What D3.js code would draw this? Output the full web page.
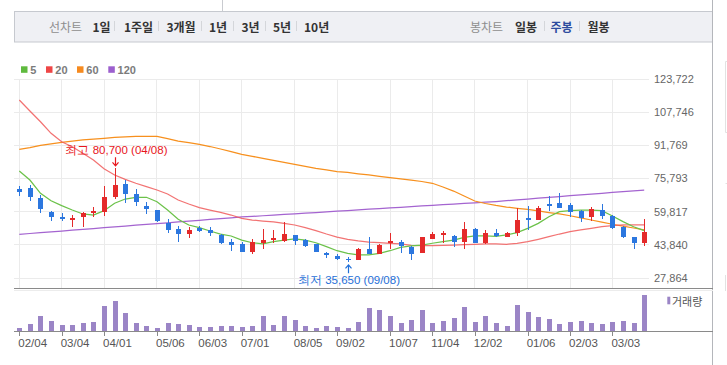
<!DOCTYPE html>
<html><head><meta charset="utf-8">
<script src="https://cdn.jsdelivr.net/npm/d3@7"></script>
<style>
html,body{margin:0;padding:0;background:#fff;}
svg{display:block;}
</style></head><body>
<svg id="c" width="727" height="365"></svg>
<script>
// ---------- DATA ----------
const dates = ["02/04","02/11","02/18","02/25","03/04","03/11","03/18","03/25","04/01","04/08",
  "04/15","04/22","04/29","05/06","05/13","05/20","05/27","06/03","06/10","06/17",
  "06/24","07/01","07/08","07/15","07/22","07/29","08/05","08/12","08/19","08/26",
  "09/02","09/08","09/16","09/23","09/30","10/07","10/14","10/21","10/28","11/04",
  "11/11","11/18","11/25","12/02","12/09","12/16","12/23","12/30","01/06","01/13",
  "01/20","01/27","02/03","02/10","02/17","02/24","03/03","03/09","03/16","03/23"];
const open = [70700,71200,66250,59800,57100,56150,57100,59300,59500,67000,
  73150,68450,62550,60600,54350,51450,49200,51950,51000,48700,
  45200,44250,40550,44850,46150,45850,48450,46150,44250,39750,
  38600,37150,36700,41850,39450,44850,45350,42800,40050,46800,
  48450,47950,45350,51450,44850,49550,47750,49400,56750,55950,
  63350,64150,63050,60150,57100,60600,57750,52550,47750,44850];
const high = [72200,72650,67850,60300,59000,58050,59800,62050,72200,80700,
  75050,70600,64450,60600,56150,52900,52450,52750,52450,49050,
  46650,45200,46500,51450,50950,54850,48700,46500,44300,40550,
  39300,38100,42450,47750,44100,49550,46150,43300,47500,49900,
  50650,48600,54850,51950,51000,51300,50150,61450,62550,62550,
  67350,68950,63850,60600,61900,63500,58200,53050,47750,56300];
const low = [67500,65100,59150,55450,55200,52550,52550,57400,57850,66050,
  64150,62700,58850,54850,49700,45350,47300,50150,48250,44400,
  41000,40400,39400,41700,44850,45350,43750,42650,40500,37650,
  36700,35650,36650,39400,39400,41700,40050,36700,39750,46500,
  44850,42650,41700,44600,44250,47450,47450,48100,51000,55800,
  60300,61450,57400,55000,55300,56450,51600,47300,41700,43300];
const close = [69400,67000,60950,57100,56600,56600,59300,60150,66900,72650,
  68200,64600,60950,55300,51150,49200,51000,50500,49700,44850,
  43900,40400,45350,46300,47150,49050,45850,43300,40550,38950,
  36850,36400,41850,39400,43600,45850,43300,39400,47450,49050,
  49400,45350,51450,44850,49550,47950,49700,55800,55800,61450,
  62400,61750,59800,56900,60950,57850,51950,47750,44600,50150];
const volume = [165000,385000,765000,515000,315000,315000,415000,465000,1265000,1515000,
  915000,415000,265000,165000,415000,365000,315000,215000,215000,265000,
  265000,215000,265000,765000,315000,765000,565000,265000,165000,265000,
  215000,165000,465000,1165000,1065000,765000,415000,565000,1065000,415000,
  515000,665000,1215000,465000,765000,415000,265000,1315000,965000,715000,
  615000,365000,465000,515000,415000,365000,465000,515000,415000,1815000];
const ma5 = [79400,75050,68650,65100,62700,60600,58700,58200,60300,63850,
  65900,66750,66750,64600,60600,56150,53400,52100,50500,49050,
  48100,46150,44850,44250,45350,46150,46650,46150,44850,42950,
  41000,39750,38950,38950,39750,41000,42650,43300,43750,44600,
  45350,46150,47450,48100,48100,47950,48600,49700,51800,54200,
  57400,59800,60300,60600,60600,60300,57750,55000,52550,50650];
const ma20 = [113600,108300,103150,97550,93500,91100,87950,84700,80450,77500,
  75400,73500,71850,70250,68350,65450,63500,61750,60600,59500,
  58200,56600,55800,55300,54850,54200,53400,52100,50650,49050,
  47600,46500,45700,45200,44850,44600,44250,43600,43400,43400,
  43600,43750,43900,44100,44250,44250,44100,44600,45350,46500,
  47750,49050,50150,51000,51800,52600,53050,53400,53400,53400];
const ma60 = [89850,90700,91800,92500,93250,93750,94350,94800,95150,95600,
  95900,96050,96100,96100,95050,93850,93050,92250,91200,90000,
  88700,87450,86500,85500,84550,83600,82650,81650,80700,79900,
  79050,78700,78050,77500,76850,76250,75650,75050,74350,73500,
  71700,69750,67350,64950,63750,62800,62050,61450,60950,60150,
  59400,58700,57850,56850,55800,54750,53750,52800,51950,51000];
const ma120 = [48900,49300,49700,50100,50500,50900,51300,51700,52100,52500,
  52900,53300,53700,54050,54450,54850,55250,55650,56050,56450,
  56850,57250,57550,57850,58150,58500,58800,59100,59400,59750,
  60050,60350,60650,61000,61300,61600,61900,62200,62550,62850,
  63150,63450,63800,64100,64400,64700,65100,65500,65900,66300,
  66700,67100,67500,67850,68250,68650,69050,69450,69850,70250];
const yTicks = [27864,43840,59817,75793,91769,107746,123722];
const xTickLabels = ["02/04","03/04","04/01","05/06","06/03","07/01","08/05","09/02","10/07","11/04","12/02","01/06","02/03","03/03"];
const maLabels = ["5","20","60","120"];
const periodLabels = ["1일","1주일","3개월","1년","3년","5년","10년"];
const candleTypeLabels = ["일봉","주봉","월봉"];
const activeCandleType = "주봉";
const volumeLabel = "거래량";

// ---------- STYLE / LAYOUT ----------
const NUM = "'Liberation Sans', Arial, sans-serif";
const KR = "'Noto Sans CJK KR', 'Noto Sans', sans-serif";
const RED = "#e42a2a", BLUE = "#2c77df", VOLC = "#9b85c6";
const maColors = ["#6cc24a","#f05a5a","#f7901e","#a464d0"];
const legendColors = ["#5fba3e","#ee4646","#f68a1f","#9c5fce"];

const svg = d3.select("#c");
const rows = dates.map((d,i)=>({d,o:open[i],h:high[i],l:low[i],c:close[i],v:volume[i]}));

const x = d3.scalePoint().domain(dates).range([19.3, 644.2]);
const y = d3.scaleLinear().domain([27864,123722]).range([278,79]);
const yv = d3.scaleLinear().domain([0,2000000]).range([331.3,291.3]);

// ---------- frame / top menu ----------
svg.append("line").attr("x1",222.5).attr("x2",222.5).attr("y1",0).attr("y2",11.5).attr("stroke","#c9cbd0");
svg.append("rect").attr("x",14.5).attr("y",11.5).attr("width",698).attr("height",30.5)
  .attr("fill","#eff0f4").attr("stroke","#c6c9cf");
svg.append("line").attr("x1",712.5).attr("x2",712.5).attr("y1",0).attr("y2",365).attr("stroke","#b4b6bb");
svg.append("path").attr("d","M727,61.5H725.5V132.5H727 M727,183.5H725.5 M725.5,275V291").attr("fill","none").attr("stroke","#e2e2e2");

const menuY = 26;
svg.append("text").attr("x",49).attr("y",menuY).attr("dominant-baseline","central")
  .attr("font-family",KR).attr("font-size",12).attr("fill","#8e8e8e").text("선차트");
const periodX = [92.5,124,166.5,209,241.5,273,304];
const periodSep = [114.5,158.5,201.5,233.5,265.5,296.5];
periodLabels.forEach((t,i)=>{
  svg.append("text").attr("x",periodX[i]).attr("y",menuY).attr("dominant-baseline","central")
    .attr("font-family",KR).attr("font-size",12).attr("font-weight","bold").attr("fill","#333").text(t);
});
periodSep.forEach(sx=>svg.append("line").attr("x1",sx).attr("x2",sx).attr("y1",21).attr("y2",31).attr("stroke","#d4d6da"));
svg.append("text").attr("x",470).attr("y",menuY).attr("dominant-baseline","central")
  .attr("font-family",KR).attr("font-size",12).attr("fill","#8e8e8e").text("봉차트");
const ctX = [515,550.5,587.5];
[544.5,579.5].forEach(sx=>svg.append("line").attr("x1",sx).attr("x2",sx).attr("y1",21).attr("y2",31).attr("stroke","#d4d6da"));
candleTypeLabels.forEach((t,i)=>{
  svg.append("text").attr("x",ctX[i]).attr("y",menuY).attr("dominant-baseline","central")
    .attr("font-family",KR).attr("font-size",12).attr("font-weight","bold")
    .attr("fill", t===activeCandleType ? "#2d4d9f" : "#333").text(t);
});

// ---------- legend ----------
const legSqX = [21,46,77,108.3];
maLabels.forEach((t,i)=>{
  svg.append("rect").attr("x",legSqX[i]).attr("y",66.3).attr("width",6.5).attr("height",6.5).attr("fill",legendColors[i]);
  svg.append("text").attr("x",legSqX[i]+9.3).attr("y",69.8).attr("dominant-baseline","central")
    .attr("font-family",NUM).attr("font-size",11).attr("font-weight","bold").attr("fill","#7b7b7b").text(t);
});

// ---------- grid ----------
const grid = svg.append("g").attr("shape-rendering","crispEdges");
yTicks.forEach(v=>{
  grid.append("line").attr("x1",14).attr("x2",649).attr("y1",y(v)).attr("y2",y(v)).attr("stroke","#ebebeb");
});
xTickLabels.forEach(t=>{
  grid.append("line").attr("x1",x(t)).attr("x2",x(t)).attr("y1",79).attr("y2",288).attr("stroke","#ebebeb");
});
const fmt = d3.format(",");
yTicks.forEach(v=>{
  svg.append("text").attr("x",654).attr("y",y(v)).attr("dy","0.35em")
    .attr("font-family",NUM).attr("font-size",11).attr("fill","#666").text(fmt(v));
});

// ---------- moving averages ----------
const maSeries = [ma120, ma60, ma20, ma5];
const maCols = [maColors[3], maColors[2], maColors[1], maColors[0]];
const lineGen = d3.line().x((d,i)=>x(dates[i])).y(d=>y(d));
maSeries.forEach((s,k)=>{
  svg.append("path").datum(s).attr("d",lineGen).attr("fill","none")
    .attr("stroke",maCols[k]).attr("stroke-width",1.25).attr("stroke-opacity", k===2?0.85:1);
});

// ---------- candles ----------
const cg = svg.append("g").attr("shape-rendering","crispEdges");
rows.forEach(r=>{
  const col = r.c >= r.o ? RED : BLUE;
  const cx = Math.round(x(r.d)) + 0.5;
  cg.append("line").attr("x1",cx).attr("x2",cx).attr("y1",y(r.h)).attr("y2",y(r.l)).attr("stroke",col);
  const top = y(Math.max(r.o,r.c)), bot = y(Math.min(r.o,r.c));
  cg.append("rect").attr("x",cx-2.5).attr("y",top).attr("width",5).attr("height",Math.max(1.2,bot-top)).attr("fill",col);
});

// ---------- high / low annotations ----------
const hiIdx = d3.maxIndex(high), loIdx = d3.minIndex(low);
const hx = Math.round(x(dates[hiIdx]))+0.5, hy = y(high[hiIdx]);
svg.append("path").attr("d",`M${hx},${hy-11}V${hy-2.5}M${hx-3},${hy-6}L${hx},${hy-2.5}L${hx+3},${hy-6}`)
  .attr("fill","none").attr("stroke","#e8161c").attr("stroke-width",1.2);
svg.append("text").attr("x",hx+1).attr("y",hy-18).attr("dominant-baseline","central").attr("text-anchor","middle")
  .attr("font-family",NUM).attr("font-size",11.5).attr("fill","#e8161c")
  .text(`최고 ${fmt(high[hiIdx])} (${dates[hiIdx]})`);
const lx = Math.round(x(dates[loIdx]))+0.5, ly = y(low[loIdx]);
svg.append("path").attr("d",`M${lx},${ly+11.5}V${ly+3}M${lx-3},${ly+6.5}L${lx},${ly+3}L${lx+3},${ly+6.5}`)
  .attr("fill","none").attr("stroke","#1f6fd8").attr("stroke-width",1.2);
svg.append("text").attr("x",lx+0.5).attr("y",ly+18.5).attr("dominant-baseline","central").attr("text-anchor","middle")
  .attr("font-family",NUM).attr("font-size",11.5).attr("fill","#1f6fd8")
  .text(`최저 ${fmt(low[loIdx])} (${dates[loIdx]})`);

// ---------- panel lines ----------
const pl = svg.append("g").attr("shape-rendering","crispEdges");
pl.append("line").attr("x1",14).attr("x2",713).attr("y1",288.5).attr("y2",288.5).attr("stroke","#8a8a8a");
pl.append("line").attr("x1",14).attr("x2",713).attr("y1",290.5).attr("y2",290.5).attr("stroke","#ececec");

// ---------- volume ----------
const vg = svg.append("g").attr("shape-rendering","crispEdges");
rows.forEach(r=>{
  const cx = Math.round(x(r.d)) + 0.5;
  vg.append("rect").attr("x",cx-2.5).attr("y",yv(r.v)).attr("width",5).attr("height",yv(0)-yv(r.v)).attr("fill",VOLC);
});
pl.append("line").attr("x1",14).attr("x2",713).attr("y1",331.5).attr("y2",331.5).attr("stroke","#8a8a8a");
xTickLabels.forEach(t=>{
  pl.append("line").attr("x1",Math.round(x(t))+0.5).attr("x2",Math.round(x(t))+0.5).attr("y1",331.5).attr("y2",335.5).attr("stroke","#8a8a8a");
  svg.append("text").attr("x",x(t)-1).attr("y",343).attr("dominant-baseline","central")
    .attr("font-family",NUM).attr("font-size",11.5).attr("fill","#555").text(t);
});
svg.append("rect").attr("x",667.3).attr("y",296.7).attr("width",3).attr("height",7.6).attr("fill",VOLC);
svg.append("text").attr("x",672).attr("y",300.5).attr("dominant-baseline","central")
  .attr("font-family",KR).attr("font-size",11).attr("fill","#555").text(volumeLabel);
</script>
</body></html>
